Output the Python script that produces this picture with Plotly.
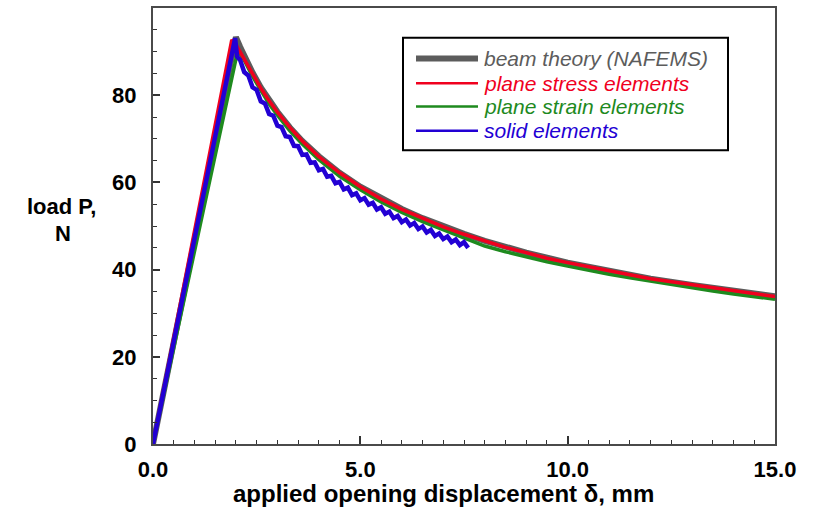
import plotly.graph_objects as go

# ---- data ----
beam_x = [0, 2.0, 2.1, 2.2, 2.4, 2.6, 2.8, 3.0, 3.3, 3.6, 4.0, 4.5, 5.0, 5.5, 6.0, 6.5,
          7.0, 7.5, 8.0, 9.0, 10.0, 11.0, 12.0, 13.0, 14.0, 15.0]
beam_y = [0, 93.3, 91.1, 89.0, 85.2, 81.8, 78.9, 76.2, 72.6, 69.5, 66.0, 62.2, 59.0, 56.3,
          53.9, 51.8, 49.9, 48.2, 46.6, 43.9, 41.6, 39.6, 37.9, 36.5, 35.1, 33.9]

stress_x = [0, 1.9, 2.0, 2.1, 2.2, 2.4, 2.6, 2.8, 3.0, 3.3, 3.6, 4.0, 4.5, 5.0, 5.5, 6.0,
            6.5, 7.0, 7.5, 8.0, 8.5, 9.0, 9.5, 10.0, 10.5, 11.0, 11.5, 12.0, 12.5, 13.0,
            13.5, 14.0, 14.5, 15.0]
stress_y = [0, 92.7, 91.6, 89.9, 88.3, 84.8, 81.6, 78.7, 76.1, 72.6, 69.5, 65.9, 62.2, 59.0,
            56.2, 53.8, 51.7, 49.8, 48.1, 46.5, 45.1, 43.9, 42.6, 41.6, 40.6, 39.6, 38.8,
            37.9, 37.2, 36.4, 35.8, 35.1, 34.5, 33.8]

strain_x = [0, 2.03, 2.1, 2.2, 2.4, 2.6, 2.8, 3.0, 3.3, 3.6, 4.0, 4.5, 5.0, 5.5, 6.0, 6.5,
            7.0, 7.5, 8.0, 8.5, 9.0, 9.5, 10.0, 10.5, 11.0, 11.5, 12.0, 12.5, 13.0, 13.5,
            14.0, 14.5, 15.0]
strain_y = [0, 89.6, 89.4, 88.0, 84.3, 81.0, 78.0, 75.4, 71.8, 68.8, 65.2, 61.4, 58.3, 55.5,
            53.1, 51.0, 49.1, 47.2, 45.4, 44.1, 42.9, 41.8, 40.8, 39.8, 38.9, 38.1, 37.3,
            36.5, 35.8, 35.1, 34.4, 33.8, 33.2]

solid_x = [0, 1.98, 2.03,
           2.1, 2.2, 2.3, 2.4, 2.5, 2.6, 2.7, 2.8, 2.9, 3.0,
           3.1, 3.2, 3.3, 3.4, 3.5, 3.6, 3.7, 3.8, 3.9, 4.0,
           4.1, 4.2, 4.3, 4.4, 4.5, 4.6, 4.7, 4.8, 4.9, 5.0,
           5.1, 5.2, 5.3, 5.4, 5.5, 5.6, 5.7, 5.8, 5.9, 6.0,
           6.1, 6.2, 6.3, 6.4, 6.5, 6.6, 6.7, 6.8, 6.9, 7.0,
           7.1, 7.2, 7.3, 7.4, 7.5, 7.6]
solid_y = [0, 93.1, 88.8,
           88.1, 85.3, 84.5, 81.8, 81.2, 78.6, 78.1, 75.7, 75.3, 73.0,
           72.7, 70.6, 70.4, 68.4, 68.3, 66.3, 66.4, 64.5, 64.6, 62.8,
           63.1, 61.3, 61.5, 59.8, 60.1, 58.4, 58.8, 57.1, 57.5, 55.9,
           56.4, 54.9, 55.3, 53.8, 54.3, 52.8, 53.3, 51.8, 52.3, 50.9,
           51.5, 50.1, 50.7, 49.3, 49.9, 48.5, 49.1, 47.7, 48.3, 47.0,
           47.6, 46.3, 46.9, 45.6, 46.3, 45.0]

x_tick_vals = [0, 5, 10, 15]
x_tick_text = ["0.0", "5.0", "10.0", "15.0"]
y_tick_vals = [0, 20, 40, 60, 80]
y_tick_text = ["0", "20", "40", "60", "80"]

series_names = ["beam theory (NAFEMS)", "plane stress elements",
                "plane strain elements", "solid elements"]
series_colors = ["#5c5c5c", "#f0001e", "#1e8a1e", "#2200d4"]
series_widths = [6, 3.5, 3.5, 4.5]

FONT = "Liberation Sans, Arial, Helvetica, sans-serif"

fig = go.Figure()
data = [(beam_x, beam_y, 0), (strain_x, strain_y, 2), (stress_x, stress_y, 1), (solid_x, solid_y, 3)]
for xs, ys, i in data:
    fig.add_trace(go.Scatter(x=xs, y=ys, mode="lines", name=series_names[i],
                             line=dict(color=series_colors[i], width=series_widths[i]),
                             showlegend=False))

# plot area in pixels: left 153, right 775, top 6, bottom 444
L, R, T, B = 153, 775, 6, 444
W, H = R - L, B - T

def px(xp):
    return (xp - L) / W

def py(yp):
    return (B - yp) / H

shapes = [dict(type="rect", xref="paper", yref="paper",
               x0=px(403), x1=px(728), y0=py(149), y1=py(36),
               line=dict(color="black", width=2), fillcolor="white", layer="above")]
annotations = []
rows = [56.7, 81.7, 105.0, 129.3]
for i, ry in enumerate(rows):
    shapes.append(dict(type="line", xref="paper", yref="paper",
                       x0=px(416), x1=px(478), y0=py(ry), y1=py(ry),
                       line=dict(color=series_colors[i], width=6 if i == 0 else 2.5),
                       layer="above"))
    annotations.append(dict(xref="paper", yref="paper", x=px(482), y=py(ry),
                            xanchor="left", yanchor="middle", showarrow=False,
                            text="<i>" + series_names[i] + "</i>",
                            font=dict(family=FONT, size=21, color=series_colors[i])))

annotations.append(dict(xref="paper", yref="paper", x=px(61), y=py(205),
                        xanchor="center", yanchor="middle", showarrow=False,
                        text="<b>load P,</b>",
                        font=dict(family=FONT, size=22, color="black")))
annotations.append(dict(xref="paper", yref="paper", x=px(63), y=py(233),
                        xanchor="center", yanchor="middle", showarrow=False,
                        text="<b>N</b>",
                        font=dict(family=FONT, size=22, color="black")))
annotations.append(dict(xref="paper", yref="paper", x=px(443), y=py(494),
                        xanchor="center", yanchor="middle", showarrow=False,
                        text="<b>applied opening displacement δ, mm</b>",
                        font=dict(family=FONT, size=24, color="black")))

fig.update_layout(
    width=817, height=509,
    margin=dict(l=L, r=817 - R, t=T, b=509 - B),
    paper_bgcolor="white", plot_bgcolor="white",
    shapes=shapes, annotations=annotations,
    font=dict(family=FONT, color="black"),
)
tick_font = dict(family=FONT, size=22, color="black", weight="bold")
fig.update_xaxes(range=[0, 15], tickvals=x_tick_vals, ticktext=x_tick_text,
                 ticks="inside", ticklen=8, tickwidth=1.5, tickcolor="#333",
                 minor=dict(ticks="inside", ticklen=4, dtick=0.5, tickwidth=1.2, tickcolor="#333"),
                 showline=True, linecolor="#4a4a4a", linewidth=2, mirror=True,
                 showgrid=False, zeroline=False,
                 tickfont=tick_font, ticklabelstandoff=5)
fig.update_yaxes(range=[0, 100], tickvals=y_tick_vals, ticktext=y_tick_text,
                 ticks="inside", ticklen=7, tickwidth=1.5, tickcolor="#333",
                 minor=dict(ticks="inside", ticklen=4, dtick=5, tickwidth=1.2, tickcolor="#333"),
                 showline=True, linecolor="#4a4a4a", linewidth=2, mirror=True,
                 showgrid=False, zeroline=False,
                 tickfont=tick_font, ticklabelstandoff=10)

fig.write_html("out.html", config={"displayModeBar": False},
               post_script="document.body.style.margin='0px';document.body.style.overflow='hidden';")
